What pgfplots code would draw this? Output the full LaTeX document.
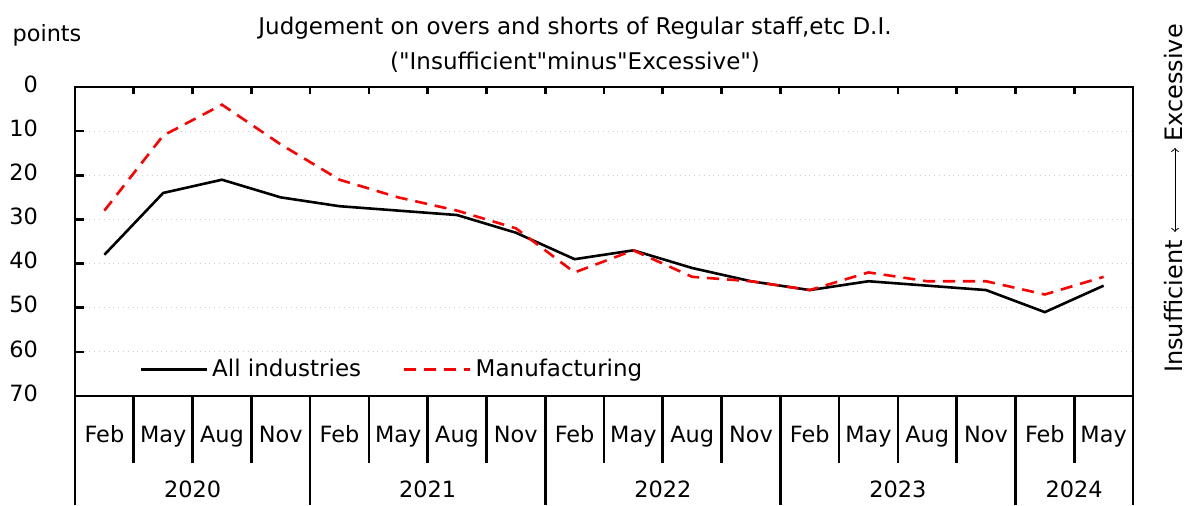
\documentclass[border=0pt]{standalone}
\usepackage{pgfplots}
\pgfplotsset{compat=1.18}
\usepackage{pgfplotstable}
\usepackage{fontspec}
\setmainfont{DejaVu Sans}

% quarter index (0.5 = Feb 2020), D.I. points
\pgfplotstableread{
x    all   manu
0.5  38    28
1.5  24    11
2.5  21    4
3.5  25    13
4.5  27    21
5.5  28    25
6.5  29    28
7.5  33    32
8.5  39    42
9.5  37    37
10.5 41    43
11.5 44    44
12.5 46    46
13.5 44    42
14.5 45    44
15.5 46    44
16.5 51    47
17.5 45    43
}\didata

\begin{document}
\begin{tikzpicture}[font=\fontsize{11.2}{13}\selectfont]
\useasboundingbox (-37.5pt,-54.5pt) rectangle (556.5pt,198pt);
\begin{axis}[
    at={(0,0)}, anchor=south west,
    scale only axis,
    width=529pt, height=154.5pt,
    xmin=0, xmax=18,
    ymin=0, ymax=70,
    y dir=reverse,
    axis line style={line width=1.4pt},
    xtick={0.5,1.5,...,17.5},
    xticklabels={Feb,May,Aug,Nov,Feb,May,Aug,Nov,Feb,May,Aug,Nov,Feb,May,Aug,Nov,Feb,May},
    x tick style={draw=none},
    xticklabel style={anchor=base, yshift=-23pt},
    ytick={0,10,...,70},
    ytick pos=left,
    tick align=inside,
    major tick length=4.5pt,
    y tick style={line width=1.3pt, black},
    yticklabel style={anchor=east, xshift=-15pt, yshift=1.5pt},
    /pgf/number format/assume math mode=true,
    ymajorgrids,
    grid style={gray!40, dotted, line width=0.6pt},
    clip=false,
    legend columns=2,
    legend style={at={(0.055,0.025)}, anchor=south west, draw=none, fill=none,
        font=\fontsize{11.5}{13}\selectfont,
        /tikz/every even column/.append style={column sep=19pt}},
    legend image code/.code={\draw[#1] (0pt,0pt) -- (33pt,0pt);},
]
\addplot[black, line width=1.3pt] table[x=x, y=all] {\didata};
\addlegendentry{All industries}
\addplot[red, line width=1.3pt, dash pattern=on 6pt off 4pt] table[x=x, y=manu] {\didata};
\addlegendentry{Manufacturing}

% top ticks at quarter boundaries
\pgfplotsinvokeforeach{1,...,17}{
    \draw[line width=1.3pt] (axis cs:#1,0) -- ++(0,-3.5pt);
}
% month separators below the axis
\pgfplotsinvokeforeach{1,2,3,5,6,7,9,10,11,13,14,15,17}{
    \draw[line width=1.3pt] (axis cs:#1,70) -- ++(0,-33.5pt);
}
% year separators
\pgfplotsinvokeforeach{0,4,8,12,16,18}{
    \draw[line width=1.3pt] (axis cs:#1,70) -- ++(0,-54.5pt);
}
\node[anchor=base] at ([yshift=-50.5pt]axis cs:2,70) {2020};
\node[anchor=base] at ([yshift=-50.5pt]axis cs:6,70) {2021};
\node[anchor=base] at ([yshift=-50.5pt]axis cs:10,70) {2022};
\node[anchor=base] at ([yshift=-50.5pt]axis cs:14,70) {2023};
\node[anchor=base] at ([yshift=-50.5pt]axis cs:17,70) {2024};

\node at ([xshift=-14.5pt, yshift=29.5pt]rel axis cs:0.5,1) {\fontsize{11.5}{13}\selectfont Judgement on overs and shorts of Regular staff,etc D.I.};
\node at ([xshift=-14.5pt, yshift=12.5pt]rel axis cs:0.5,1) {\fontsize{11.5}{13}\selectfont (\textquotedbl Insufficient\textquotedbl minus\textquotedbl Excessive\textquotedbl)};
\node at ([xshift=-14pt, yshift=26pt]rel axis cs:0,1) {points};

% right-hand direction label
\node[rotate=90, anchor=east, inner sep=0pt, font=\fontsize{12}{14}\selectfont]
    at ([xshift=20.5pt]rel axis cs:1,0.505) {Insufficient};
\node[rotate=90, anchor=west, inner sep=0pt, font=\fontsize{12}{14}\selectfont]
    at ([xshift=20.5pt]rel axis cs:1,0.822) {Excessive};
\draw[<->, line width=0.5pt] ([xshift=21pt]rel axis cs:1,0.531) -- ([xshift=21pt]rel axis cs:1,0.803);
\end{axis}
\end{tikzpicture}
\end{document}
